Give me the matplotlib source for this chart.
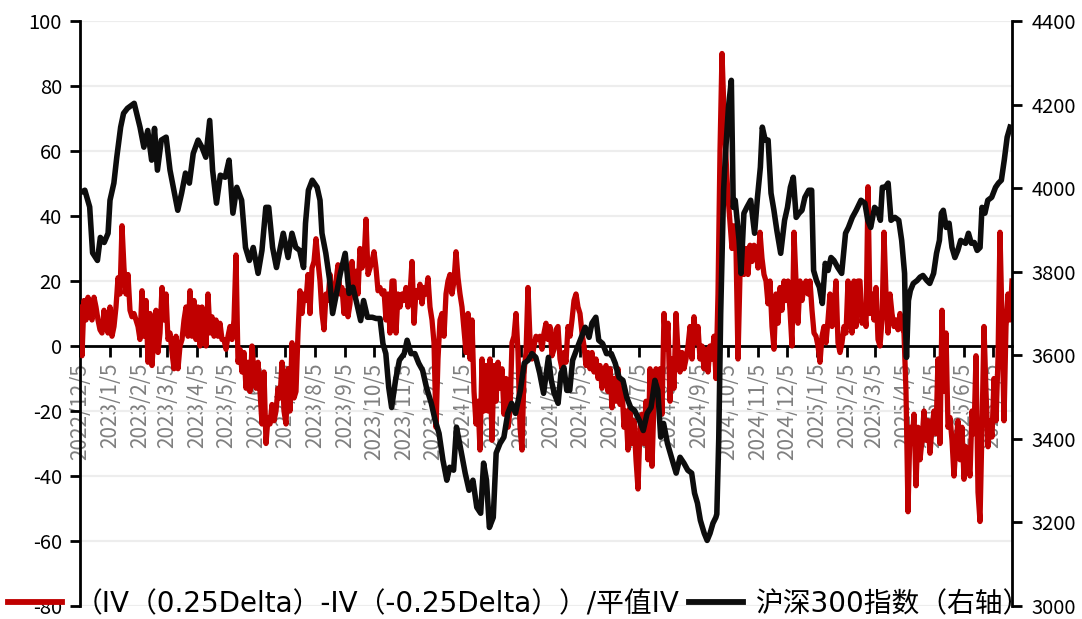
import matplotlib
matplotlib.use("Agg")
import matplotlib.pyplot as plt
import matplotlib.dates as mdates
import pandas as pd
from matplotlib.lines import Line2D

plt.rcParams['font.family'] = ['Noto Sans CJK SC', 'DejaVu Sans']
plt.rcParams['axes.unicode_minus'] = False

# ---------------- data ----------------
tick_labels = ["2022/12/5", "2023/1/5", "2023/2/5", "2023/3/5", "2023/4/5", "2023/5/5",
               "2023/6/5", "2023/7/5", "2023/8/5", "2023/9/5", "2023/10/5", "2023/11/5",
               "2023/12/5", "2024/1/5", "2024/2/5", "2024/3/5", "2024/4/5", "2024/5/5",
               "2024/6/5", "2024/7/5", "2024/8/5", "2024/9/5", "2024/10/5", "2024/11/5",
               "2024/12/5", "2025/1/5", "2025/2/5", "2025/3/5", "2025/4/5", "2025/5/5",
               "2025/6/5", "2025/7/5"]

red_start = "2022-12-05"
red_end = "2025-07-25"
red_vals = [
    12, -3, 14, 8, 15, 10, 8, 15, 12, 8, 5, 4, 11, 6, 4, 12, 3, 6, 12, 21,
    16, 37, 24, 16, 22, 11, 9, 10, 8, 6, 2, 17, 3, 14, -5, 10, -6, 4, 11, -2,
    4, 18, 8, 16, 2, 4, -2, -7, 3, -7, 0, 2, 8, 12, 3, 17, 3, 14, 2, 12,
    0, 12, 9, 0, 16, 4, 9, 3, 8, 3, 7, 2, 2, -1, 3, 6, 2, 8, 28, -5,
    -1, -8, -2, -13, -5, -14, 0, -8, -13, -5, -14, -24, -8, -30, -22, -24, -18, -23, -20, -13,
    -16, -5, -20, -24, -7, -20, 1, -16, -14, 4, 17, 10, 16, 14, 22, 10, 24, 26, 33, 26,
    20, 10, 5, 16, 14, 22, 14, 16, 20, 25, 16, 18, 10, 17, 9, 13, 26, 17, 23, 16,
    30, 24, 26, 39, 22, 24, 26, 29, 24, 17, 18, 16, 17, 8, 16, 4, 20, 20, 4, 16,
    12, 16, 14, 18, 12, 16, 26, 7, 17, 15, 19, 13, 18, 16, 21, 12, 8, 1, -25, -4,
    8, 10, 3, 16, 20, 22, 16, 20, 29, 21, 16, 12, 5, -2, 10, -4, 8, -14, -24, -17,
    -32, -4, -20, -6, -20, -4, -29, -6, -17, -5, -13, -7, -21, -10, -25, -20, 1, 3, 10, -2,
    -25, -32, -8, -2, 18, 2, -4, 0, 3, 2, 3, -1, 4, 7, 2, 6, -3, -1, 5, 6,
    -4, -7, -2, -5, 6, 3, 8, 14, 16, 12, 10, 4, 0, -6, -2, -7, -2, -8, -4, -10,
    -6, -13, -10, -6, -14, -7, -19, -10, -17, -7, -18, -13, -25, -20, -32, -19, -30, -23, -35, -44,
    -25, -21, -30, -17, -35, -7, -37, -17, -7, -14, -7, -21, 10, -1, 7, -17, -4, -13, 10, -2,
    -8, -2, -7, -4, 0, 6, -4, 9, 1, 6, -4, 0, -7, -1, -8, 0, -4, 3, -10, 16,
    60, 90, 72, 58, 46, 38, 30, 37, 30, -4, 22, 33, 22, 30, 22, 31, 26, 31, 30, 24,
    35, 27, 22, 20, 13, 20, 6, -1, 16, 7, 18, 11, 20, 14, 20, 11, 0, 35, 20, 7,
    20, 14, 18, 20, 16, 20, 11, 4, 3, 0, -5, 3, 6, 1, 8, 16, 6, 11, 20, 1,
    -2, 1, 6, 4, 20, 9, 4, 20, 6, 20, 20, 7, 12, 6, 49, 10, 16, 8, 18, 2,
    0, 8, 35, 16, 4, 16, 10, 6, 8, 5, 10, 6, 4, -14, -51, -25, -30, -21, -43, -25,
    -35, -29, -20, -29, -23, -33, -25, -20, -27, -4, -30, 11, -14, 4, -25, -22, -29, -40, -30, -23,
    -35, -25, -41, -31, -35, -40, -20, -27, -3, -45, -54, -25, 6, -14, -31, -23, -28, -10, -23, -4,
    35, 8, -23, 6, 16, 8, 20,
]

black_dates = [
    "2022-12-06", "2022-12-10", "2022-12-15", "2022-12-18", "2022-12-23", "2022-12-26", "2022-12-30",
    "2023-01-03", "2023-01-05", "2023-01-09", "2023-01-12", "2023-01-16", "2023-01-19", "2023-01-23", "2023-01-30",
    "2023-02-05", "2023-02-09", "2023-02-13", "2023-02-17", "2023-02-20", "2023-02-23", "2023-02-27",
    "2023-03-04", "2023-03-08", "2023-03-12", "2023-03-16", "2023-03-20", "2023-03-24", "2023-03-28",
    "2023-04-01", "2023-04-06", "2023-04-10", "2023-04-14", "2023-04-18", "2023-04-21", "2023-04-25", "2023-04-29",
    "2023-05-04", "2023-05-08", "2023-05-12", "2023-05-16", "2023-05-21", "2023-05-25", "2023-05-29",
    "2023-06-02", "2023-06-07", "2023-06-11", "2023-06-15", "2023-06-18", "2023-06-22", "2023-06-26", "2023-06-30",
    "2023-07-03", "2023-07-08", "2023-07-12", "2023-07-16", "2023-07-20", "2023-07-24", "2023-07-26", "2023-07-29",
    "2023-08-02", "2023-08-07", "2023-08-10", "2023-08-12", "2023-08-16", "2023-08-20", "2023-08-23", "2023-08-27", "2023-08-31",
    "2023-09-05", "2023-09-09", "2023-09-13", "2023-09-17", "2023-09-21", "2023-09-24", "2023-09-28",
    "2023-10-03", "2023-10-07", "2023-10-11", "2023-10-14", "2023-10-17", "2023-10-20", "2023-10-23", "2023-10-27", "2023-10-31",
    "2023-11-05", "2023-11-08", "2023-11-12", "2023-11-16", "2023-11-20", "2023-11-24", "2023-11-28",
    "2023-12-03", "2023-12-07", "2023-12-11", "2023-12-15", "2023-12-19", "2023-12-22", "2023-12-26", "2023-12-29",
    "2024-01-02", "2024-01-07", "2024-01-11", "2024-01-15", "2024-01-19", "2024-01-23", "2024-01-26", "2024-01-29",
    "2024-02-01", "2024-02-05", "2024-02-08", "2024-02-12", "2024-02-16", "2024-02-20", "2024-02-24", "2024-02-28",
    "2024-03-04", "2024-03-08", "2024-03-12", "2024-03-16", "2024-03-20", "2024-03-24", "2024-03-28",
    "2024-04-02", "2024-04-05", "2024-04-08", "2024-04-12", "2024-04-15", "2024-04-18", "2024-04-21", "2024-04-24", "2024-04-27",
    "2024-05-02", "2024-05-06", "2024-05-10", "2024-05-14", "2024-05-17", "2024-05-21", "2024-05-24", "2024-05-28",
    "2024-06-01", "2024-06-06", "2024-06-10", "2024-06-14", "2024-06-18", "2024-06-22", "2024-06-26", "2024-06-30",
    "2024-07-05", "2024-07-09", "2024-07-13", "2024-07-17", "2024-07-21", "2024-07-24", "2024-07-27", "2024-07-30",
    "2024-08-03", "2024-08-08", "2024-08-12", "2024-08-16", "2024-08-20", "2024-08-24", "2024-08-28", "2024-08-31",
    "2024-09-03", "2024-09-06", "2024-09-10", "2024-09-13", "2024-09-16", "2024-09-19", "2024-09-22", "2024-09-23",
    "2024-09-25", "2024-09-27", "2024-09-30",
    "2024-10-02", "2024-10-05", "2024-10-08", "2024-10-10", "2024-10-12", "2024-10-16", "2024-10-18", "2024-10-21",
    "2024-10-24", "2024-10-28",
    "2024-11-01", "2024-11-04", "2024-11-07", "2024-11-09", "2024-11-12", "2024-11-15", "2024-11-18", "2024-11-21",
    "2024-11-24", "2024-11-28",
    "2024-12-02", "2024-12-05", "2024-12-08", "2024-12-11", "2024-12-14", "2024-12-17", "2024-12-20", "2024-12-23",
    "2024-12-27", "2024-12-30",
    "2025-01-01", "2025-01-04", "2025-01-07", "2025-01-10", "2025-01-13", "2025-01-16", "2025-01-19", "2025-01-22",
    "2025-01-26", "2025-01-30",
    "2025-02-03", "2025-02-06", "2025-02-10", "2025-02-14", "2025-02-19", "2025-02-23", "2025-02-26",
    "2025-03-01", "2025-03-05", "2025-03-08", "2025-03-11", "2025-03-13", "2025-03-16", "2025-03-19", "2025-03-22",
    "2025-03-26", "2025-03-30",
    "2025-04-02", "2025-04-05", "2025-04-06", "2025-04-07", "2025-04-09", "2025-04-11", "2025-04-14", "2025-04-18",
    "2025-04-21", "2025-04-24", "2025-04-28",
    "2025-05-01", "2025-05-05", "2025-05-08", "2025-05-11", "2025-05-13", "2025-05-15", "2025-05-18", "2025-05-21",
    "2025-05-24", "2025-05-27", "2025-05-30",
    "2025-06-02", "2025-06-07", "2025-06-10", "2025-06-13", "2025-06-16", "2025-06-19", "2025-06-22", "2025-06-24",
    "2025-06-27", "2025-06-30",
    "2025-07-04", "2025-07-08", "2025-07-11", "2025-07-14", "2025-07-17", "2025-07-20", "2025-07-23",
]
black_vals = [
    3990, 3995, 3955, 3845, 3827, 3882, 3870,
    3892, 3971, 4012, 4074, 4146, 4179, 4191, 4203,
    4146, 4098, 4138, 4067, 4143, 4043, 4115,
    4122, 4043, 3995, 3947, 3988, 4036, 4012,
    4083, 4115, 4098, 4074, 4162, 4043, 3964, 4031,
    4026, 4067, 3940, 4002, 3971, 3858, 3827,
    3858, 3796, 3851, 3954, 3954, 3858, 3810, 3858,
    3892, 3834, 3892, 3858, 3851, 3810, 3916, 3995,
    4019, 4002, 3971, 3892, 3844, 3779, 3700, 3748, 3796,
    3844, 3748, 3763, 3724, 3683, 3731, 3691,
    3691, 3688, 3688, 3628, 3604, 3523, 3475, 3540, 3588,
    3604, 3636, 3604, 3604, 3581, 3564, 3523,
    3485, 3444, 3413, 3349, 3301, 3332, 3325, 3428,
    3380, 3318, 3277, 3301, 3236, 3222, 3342, 3301,
    3188, 3212, 3366, 3389, 3404, 3461, 3485, 3461,
    3516, 3581, 3588, 3604, 3595, 3557, 3509,
    3595, 3540, 3509, 3485, 3557, 3571, 3516, 3516, 3588,
    3619, 3643, 3667, 3643, 3677, 3691, 3636, 3628,
    3604, 3604, 3581, 3547, 3540, 3499, 3475, 3468,
    3444, 3420, 3461, 3475, 3540, 3516, 3404, 3437,
    3389, 3349, 3318, 3356, 3342, 3325, 3318, 3270,
    3246, 3205, 3174, 3157, 3174, 3198, 3212, 3220,
    3400, 3700, 3995,
    4083, 4193, 4258, 3954, 3971, 3875, 3796, 3940,
    3954, 3971,
    3892, 3978, 4050, 4146, 4115, 4115, 3988, 3947,
    3899, 3844,
    3923, 3954, 4002, 4026, 3930, 3940, 3947, 3978,
    3995, 3995,
    3803, 3779, 3763, 3724, 3820, 3803, 3834, 3827,
    3810, 3796,
    3892, 3906, 3930, 3947, 3971, 3964, 3923,
    3906, 3954, 3947, 3923, 4002, 4002, 4012, 3923,
    3930, 3923,
    3875, 3796, 3667, 3595, 3731, 3755, 3772, 3779,
    3787, 3791, 3779,
    3772, 3796, 3844, 3875, 3940, 3947, 3906, 3916,
    3858, 3834, 3851,
    3875, 3868, 3892, 3868, 3870, 3851, 3858, 3954,
    3940, 3971,
    3978, 4002, 4012, 4019, 4067, 4122, 4146,
]

red_label = "（IV（0.25Delta）-IV（-0.25Delta））/平值IV"
black_label = "沪深300指数（右轴）"

RED = "#C00000"
BLACK = "#0D0D0D"
GRID = "#EDEDED"
TICKGRAY = "#7F7F7F"

# ---------------- figure ----------------
W, H = 1082, 619
fig = plt.figure(figsize=(W / 100, H / 100), dpi=100)
ax = fig.add_axes([80 / W, 13 / H, 932 / W, 585 / H])
ax2 = ax.twinx()

# spine placement first (it resets tick properties)
ax.spines['bottom'].set_position(('data', 0))
ax.spines['bottom'].set_linewidth(2)
ax.spines['bottom'].set_color('black')
for a in (ax, ax2):
    a.spines['top'].set_visible(False)
ax2.spines['bottom'].set_visible(False)
ax.spines['left'].set_linewidth(2)
ax2.spines['right'].set_linewidth(2)
ax2.spines['left'].set_visible(False)
ax.spines['right'].set_visible(False)

red_x = mdates.date2num(pd.date_range(red_start, red_end, periods=len(red_vals)).to_pydatetime())
black_x = mdates.date2num(pd.to_datetime(black_dates).to_pydatetime())
tick_x = mdates.date2num(pd.to_datetime(tick_labels, format="%Y/%m/%d").to_pydatetime())
x0 = mdates.date2num(pd.Timestamp(red_start).to_pydatetime())
x1 = mdates.date2num(pd.Timestamp(red_end).to_pydatetime())

ax.plot(red_x, red_vals, color=RED, lw=3.8, solid_joinstyle='round', zorder=3)
ax2.plot(black_x, black_vals, color=BLACK, lw=4.0, solid_joinstyle='round', zorder=3)

ax.set_ylim(-80, 100)
ax.set_yticks(range(-80, 101, 20))
ax2.set_ylim(3000, 4400)
ax2.set_yticks(range(3000, 4401, 200))
ax.set_xlim(x0, x1)

ax.set_xticks(tick_x)
ax.set_xticklabels(tick_labels)
ax.tick_params(axis='x', direction='out', length=8, width=2, pad=4,
               labelrotation=90, labelcolor=TICKGRAY, labelsize=15)
ax.tick_params(axis='y', direction='out', length=7, width=2, pad=6, labelsize=14.5)
ax2.tick_params(axis='y', direction='out', length=7, width=2, pad=7, labelsize=14.5)

ax.grid(axis='y', color=GRID, lw=1.6)
ax.grid(axis='x', visible=False)
ax.set_axisbelow(True)

handles = [Line2D([], [], color=RED, lw=4.2), Line2D([], [], color=BLACK, lw=4.2)]
fig.legend(handles, [red_label, black_label], loc='center left',
           bbox_to_anchor=(8 / W, 1 - 604 / H), ncol=2, frameon=False,
           prop={'family': ['DejaVu Sans', 'Noto Sans CJK SC'], 'size': 20},
           handlelength=1.95, handletextpad=0.45, columnspacing=0.35,
           borderpad=0, borderaxespad=0)

fig.savefig("out.png", dpi=100)
